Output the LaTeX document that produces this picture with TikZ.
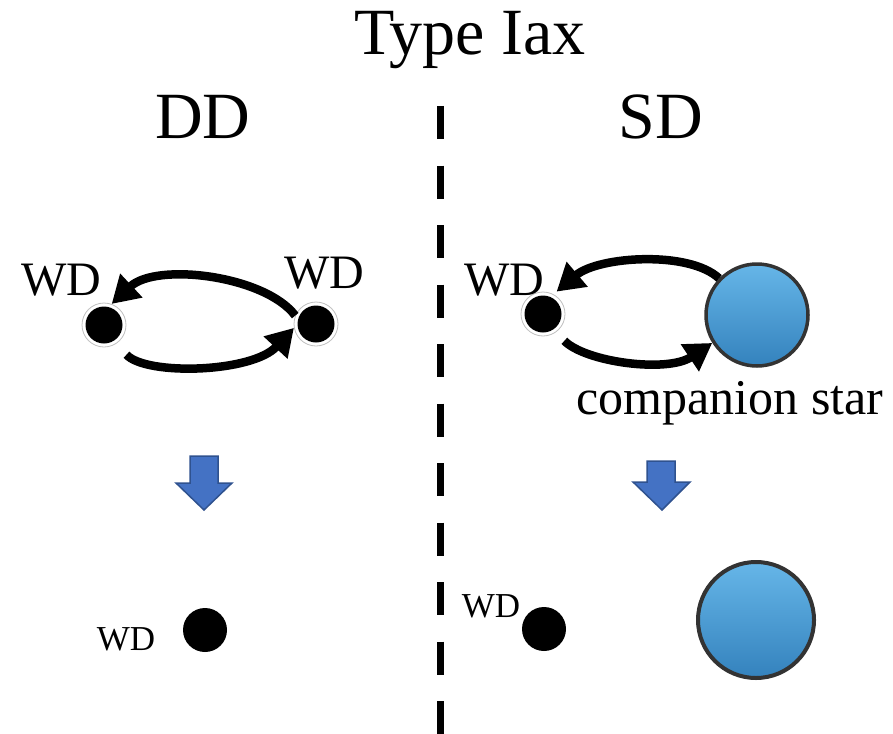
\documentclass[tikz,border=0pt]{standalone}
\usepackage{fontspec}
\setmainfont{Liberation Serif}
\usetikzlibrary{arrows.meta,shapes.geometric}
\definecolor{arrowblue}{HTML}{4472C4}
\definecolor{arrowedge}{HTML}{2F528F}
\definecolor{startop}{HTML}{66B6E8}
\definecolor{starbot}{HTML}{3482BD}
\definecolor{starrim}{HTML}{333333}
\tikzset{
  halodot/.style={circle,fill=white,draw=black!25,line width=0.8pt,minimum size=44pt,inner sep=0pt,
    path picture={\fill[black] (path picture bounding box.center) circle (18.5pt);}},
  plaindot/.style={circle,fill=black,minimum size=44pt,inner sep=0pt},
  starball/.style={circle,draw=starrim,line width=3.5pt,top color=startop,bottom color=starbot,inner sep=0pt},
  flow/.style={line width=8.5pt,-{Triangle[length=27pt,width=31pt]}},
  blockarrow/.style={fill=arrowblue,draw=arrowedge,line width=1.5pt,line join=miter},
  bigtxt/.style={anchor=base,inner sep=0pt,font=\fontsize{66}{70}\selectfont},
  midtxt/.style={anchor=base,inner sep=0pt,font=\fontsize{48}{52}\selectfont},
  smalltxt/.style={anchor=base,inner sep=0pt,font=\fontsize{35}{40}\selectfont},
  divider/.style={line width=7pt,dash pattern=on 33pt off 26.5pt}
}
\begin{document}
\begin{tikzpicture}[x=1pt,y=-1pt]
\useasboundingbox (0,0) rectangle (893,733);
% titles
\node[bigtxt] (title) at (470,55) {Type Iax};
\node[bigtxt] (dd) at (203,138) {DD};
\node[bigtxt] (sd) at (661,138) {SD};
% divider
\coordinate (dtop) at (440,106);
\coordinate (dbot) at (440,740);
\draw[divider] (dtop) -- (dbot);
% DD top
\node[halodot] (wdA) at (104,325) {};
\node[halodot] (wdB) at (316,324) {};
\node[midtxt] (lA) at (61,295) {WD};
\node[midtxt] (lB) at (324,288) {WD};
\draw[flow] (wdB.158) .. controls +(-30,-40) and +(45,-42) .. (wdA.70);
\draw[flow,shorten <=15pt] (wdA.-57) .. controls +(30,32) and +(-42,45) .. (wdB.190);
% SD top
\node[halodot] (wdC) at (543,314) {};
\node[starball,minimum size=102pt] (cs) at (757,315) {};
\node[midtxt] (lC) at (504,295) {WD};
\node[midtxt,font=\fontsize{50}{54}\selectfont] (lcs) at (730,414) {companion star};
\draw[flow,shorten >=4pt] (cs.136) .. controls +(-30,-28) and +(45,-38) .. (wdC.62);
\draw[flow,shorten <=12pt] (wdC.-55) .. controls +(30,30) and +(-45,30) .. (cs.212);
% block arrows
\draw[blockarrow] (190,456) -- (218,456) -- (218,483) -- (232,483) -- (204,510) -- (176,483) -- (190,483) -- cycle;
\draw[blockarrow] (647,461) -- (675,461) -- (675,482) -- (690,482) -- (662,510) -- (633,482) -- (647,482) -- cycle;
% bottom
\node[plaindot] (wdD) at (205,630) {};
\node[smalltxt] (lD) at (126,650) {WD};
\node[plaindot] (wdE) at (544,629) {};
\node[smalltxt] (lE) at (491,617) {WD};
\node[starball,minimum size=116pt,line width=4pt] (cs2) at (756,620) {};
\end{tikzpicture}
\end{document}
